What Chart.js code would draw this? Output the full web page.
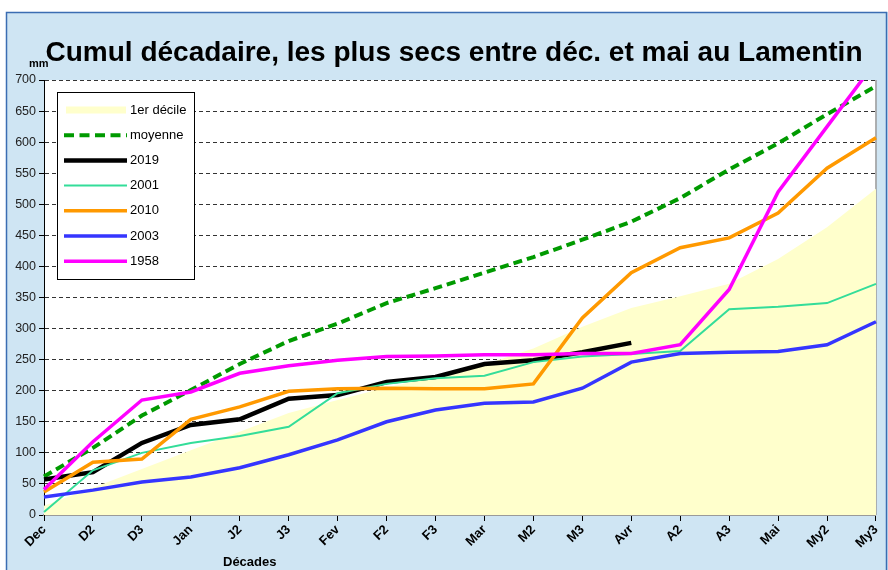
<!DOCTYPE html>
<html lang="fr">
<head>
    <meta charset="UTF-8">
    <script src="https://cdn.jsdelivr.net/npm/chart.js"></script>
    <title>Cumul décadaire</title>
    <style>
        body {
            margin: 0;
            padding: 0;
            background-color: #ffffff;
        }
        #chart {
            display: block;
        }
    </style>
</head>
<body>
    <canvas id="chart" width="888" height="570"></canvas>
    <script>
        // décades de décembre à mai
        const categories = ['Dec', 'D2', 'D3', 'Jan', 'J2', 'J3', 'Fev', 'F2', 'F3', 'Mar', 'M2', 'M3', 'Avr', 'A2', 'A3', 'Mai', 'My2', 'My3'];

        const decile1 = [15, 44, 74, 104, 134, 164, 185, 205, 222, 242, 268, 303, 333, 352, 372, 412, 463, 525];
        const moyenne = [62, 108, 160, 201, 243, 280, 308, 341, 365, 390, 415, 443, 472, 510, 556, 598, 645, 690];
        const y2019 = [57, 69, 116, 145, 154, 187, 193, 214, 222, 243, 249, 262, 277, null, null, null, null, null];
        const y2001 = [5, 72, 100, 116, 127, 142, 196, 211, 220, 224, 246, 255, 259, 264, 331, 335, 341, 372];
        const y2010 = [37, 85, 90, 154, 174, 199, 203, 204, 203, 203, 211, 317, 390, 430, 446, 486, 558, 607];
        const y2003 = [29, 40, 53, 61, 76, 97, 121, 150, 169, 180, 182, 204, 246, 260, 262, 263, 274, 311];
        const y1958 = [41, 118, 185, 198, 228, 240, 249, 255, 256, 258, 258, 260, 260, 274, 363, 520, 625, 730];

        const FONT = '"Liberation Sans", Arial, sans-serif';
        Chart.defaults.font.family = FONT;

        // fonds : bandeau bleu clair + zone de tracé blanche
        const backgroundPlugin = {
            id: 'backgrounds',
            beforeDraw(chart) {
                const ctx = chart.ctx;
                const a = chart.chartArea;
                ctx.save();
                ctx.fillStyle = '#ffffff';
                ctx.fillRect(0, 0, chart.width, chart.height);
                ctx.fillStyle = '#cfe5f3';
                ctx.fillRect(6, 12, chart.width - 6, chart.height - 12);
                ctx.strokeStyle = '#3b6db2';
                ctx.lineWidth = 1.5;
                ctx.strokeRect(6.5, 12.5, chart.width - 8, chart.height);
                ctx.fillStyle = '#ffffff';
                ctx.fillRect(a.left, a.top, a.right - a.left, a.bottom - a.top);
                ctx.strokeStyle = '#999999';
                ctx.lineWidth = 1.5;
                ctx.beginPath();
                ctx.moveTo(a.right, a.top);
                ctx.lineTo(a.right, a.bottom);
                ctx.stroke();
                ctx.restore();
            }
        };

        // titre, unités, légende
        const labelsPlugin = {
            id: 'labels',
            afterDraw(chart) {
                const ctx = chart.ctx;
                ctx.save();
                ctx.fillStyle = '#000000';
                ctx.textBaseline = 'alphabetic';

                ctx.font = 'bold 28px ' + FONT;
                ctx.textAlign = 'center';
                ctx.fillText('Cumul décadaire, les plus secs entre déc. et mai au Lamentin', 454, 61);

                ctx.font = 'bold 11px ' + FONT;
                ctx.textAlign = 'left';
                ctx.fillText('mm', 29, 67);

                ctx.font = 'bold 13px ' + FONT;
                ctx.fillText('Décades', 223, 566);

                // légende
                ctx.fillStyle = '#ffffff';
                ctx.fillRect(57, 92, 137, 187);
                ctx.strokeStyle = '#000000';
                ctx.lineWidth = 1;
                ctx.strokeRect(57.5, 92.5, 137, 187);

                ctx.font = '13px ' + FONT;
                ctx.textBaseline = 'middle';
                chart.data.datasets.forEach((ds, i) => {
                    const y = 110 + i * 25.2;
                    ctx.beginPath();
                    if (ds.fill) {
                        ctx.strokeStyle = ds.backgroundColor;
                        ctx.lineWidth = 7;
                        ctx.setLineDash([]);
                        ctx.moveTo(66, y);
                        ctx.lineTo(126, y);
                    } else {
                        ctx.strokeStyle = ds.borderColor;
                        ctx.lineWidth = ds.borderWidth;
                        ctx.setLineDash(ds.borderDash ? [10, 5.5] : []);
                        ctx.moveTo(64, y);
                        ctx.lineTo(127, y);
                    }
                    ctx.stroke();
                    ctx.fillStyle = '#000000';
                    ctx.fillText(ds.label, 130, y);
                });
                ctx.restore();
            }
        };

        const lineSet = (label, data, color, width, order) => ({
            label: label,
            data: data,
            borderColor: color,
            backgroundColor: color,
            borderWidth: width,
            pointRadius: 0,
            tension: 0,
            fill: false,
            order: order
        });

        const moyenneSet = lineSet('moyenne', moyenne, '#009a00', 4, 6);
        moyenneSet.borderDash = [9, 5];

        const config = {
            type: 'line',
            data: {
                labels: categories,
                datasets: [
                    {
                        label: '1er décile',
                        data: decile1,
                        backgroundColor: '#ffffcc',
                        borderColor: 'rgba(0,0,0,0)',
                        borderWidth: 0,
                        pointRadius: 0,
                        tension: 0,
                        fill: 'origin',
                        order: 10
                    },
                    moyenneSet,
                    lineSet('2019', y2019, '#000000', 4.5, 5),
                    lineSet('2001', y2001, '#33dd99', 2, 4),
                    lineSet('2010', y2010, '#ff9900', 3.5, 3),
                    lineSet('2003', y2003, '#3535ff', 3.5, 2),
                    lineSet('1958', y1958, '#ff00ff', 3.5, 1)
                ]
            },
            options: {
                responsive: false,
                animation: false,
                layout: {
                    padding: { top: 80, right: 11, bottom: 0, left: 0 }
                },
                plugins: {
                    legend: { display: false },
                    title: { display: false },
                    tooltip: { enabled: false }
                },
                scales: {
                    x: {
                        afterFit(scale) { scale.height = 55; },
                        grid: {
                            display: true,
                            drawOnChartArea: false,
                            drawTicks: true,
                            tickLength: 6,
                            tickColor: '#000000',
                            tickWidth: 1,
                            tickBorderDash: []
                        },
                        border: { display: true, color: '#9a9a9a', width: 2 },
                        ticks: {
                            autoSkip: false,
                            maxRotation: 45,
                            minRotation: 45,
                            padding: 1,
                            color: '#000000',
                            font: { size: 13, weight: 'bold' }
                        }
                    },
                    y: {
                        min: 0,
                        max: 700,
                        afterFit(scale) { scale.width = 44; },
                        grid: {
                            color: '#333333',
                            lineWidth: 1,
                            drawTicks: true,
                            tickLength: 5,
                            tickColor: '#000000',
                            tickBorderDash: []
                        },
                        border: { display: true, color: '#000000', width: 1, dash: [4, 3] },
                        ticks: {
                            stepSize: 50,
                            padding: 3,
                            color: '#222222',
                            font: { size: 12.5 }
                        }
                    }
                }
            },
            plugins: [backgroundPlugin, labelsPlugin]
        };

        const myChart = new Chart(document.getElementById('chart').getContext('2d'), config);
    </script>
</body>
</html>
